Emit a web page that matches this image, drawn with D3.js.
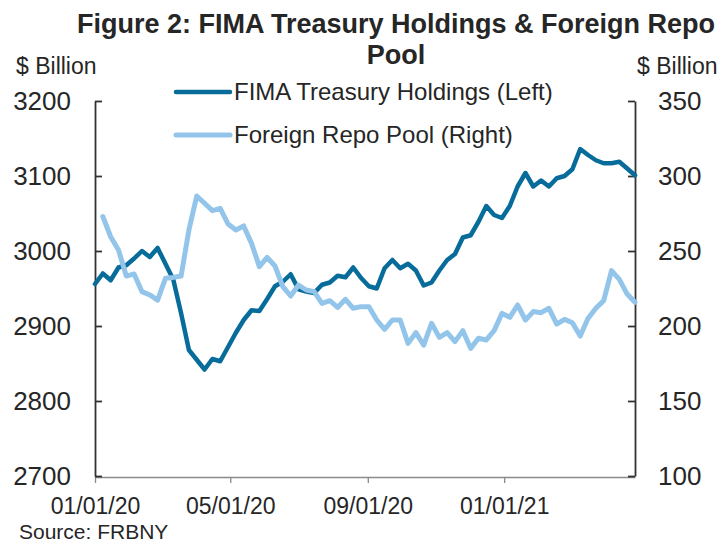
<!DOCTYPE html>
<html><head><meta charset="utf-8">
<script src="https://cdn.jsdelivr.net/npm/d3@7"></script>
<style>
body{margin:0;background:#fff}
text{font-family:"Liberation Sans",Arial,Helvetica,sans-serif;fill:#262626}
</style>
</head><body><svg id="c" width="722" height="542"></svg>
<script>
// Weekly observation dates (Wednesdays)
const dates = [
"2020-01-01","2020-01-08","2020-01-15","2020-01-22","2020-01-29",
"2020-02-05","2020-02-12","2020-02-19","2020-02-26",
"2020-03-04","2020-03-11","2020-03-18","2020-03-25",
"2020-04-01","2020-04-08","2020-04-15","2020-04-22","2020-04-29",
"2020-05-06","2020-05-13","2020-05-20","2020-05-27",
"2020-06-03","2020-06-10","2020-06-17","2020-06-24",
"2020-07-01","2020-07-08","2020-07-15","2020-07-22","2020-07-29",
"2020-08-05","2020-08-12","2020-08-19","2020-08-26",
"2020-09-02","2020-09-09","2020-09-16","2020-09-23","2020-09-30",
"2020-10-07","2020-10-14","2020-10-21","2020-10-28",
"2020-11-04","2020-11-11","2020-11-18","2020-11-25",
"2020-12-02","2020-12-09","2020-12-16","2020-12-23","2020-12-30",
"2021-01-06","2021-01-13","2021-01-20","2021-01-27",
"2021-02-03","2021-02-10","2021-02-17","2021-02-24",
"2021-03-03","2021-03-10","2021-03-17","2021-03-24","2021-03-31",
"2021-04-07","2021-04-14","2021-04-21","2021-04-28"];

// FIMA Treasury Holdings, $ billion (left axis)
const fimaHoldings = [
2956,2970,2961,2978,2981,2990,3000,2992,3004,2983,
2962,2917,2868,2855,2842,2856,2853,2872,2891,2908,
2921,2920,2936,2953,2959,2969,2949,2946,2944,2955,
2958,2967,2965,2978,2964,2953,2950,2977,2988,2977,
2983,2974,2954,2958,2974,2988,2996,3018,3021,3039,
3060,3048,3044,3060,3086,3104,3086,3094,3086,3097,
3100,3109,3136,3128,3121,3117,3117,3119,3110,3101];

// Foreign Repo Pool, $ billion (right axis)
const foreignRepoPool = [
null,273,259.5,250.7,233.3,234.7,222.9,220.7,217.3,231.8,
232.4,233.3,264,286.7,281.8,276.9,278.4,268,264,266.7,
255.1,239.6,245.8,240,226.2,220,227.3,224,222.9,215.1,
216.9,212.4,217.8,211.8,212.9,212.9,204,197.8,204,204,
188.4,195.6,187.3,201.8,192.4,195.6,189.6,196.9,185.1,191.8,
190.7,196.9,208.4,205.8,214,204,209.6,208.9,211.8,201.3,
204.4,202.2,193.3,205.1,211.8,216.9,236.9,231.1,221.3,215.8];

const leftTicks = [2700,2800,2900,3000,3100,3200];
const rightTicks = [100,150,200,250,300,350];
const xTickDates = ["2020-01-01","2020-05-01","2020-09-01","2021-01-01"];
const xTickLabels = ["01/01/20","05/01/20","09/01/20","01/01/21"];
const seriesNames = ["FIMA Treasury Holdings (Left)","Foreign Repo Pool (Right)"];

const parse = d3.utcParse("%Y-%m-%d");
const X0 = 95, X1 = 635, Y0 = 101, Y1 = 476;
const svg = d3.select("#c");

const x = d3.scaleUtc().domain([parse("2020-01-01"), parse("2021-04-28")]).range([X0, X1]);
const yL = d3.scaleLinear().domain([2700, 3200]).range([Y1, Y0]);
const yR = d3.scaleLinear().domain([100, 350]).range([Y1, Y0]);

// bottom axis
const gx = svg.append("g").attr("transform", `translate(0,${Y1 + 1})`)
  .call(d3.axisBottom(x).tickValues(xTickDates.map(parse))
    .tickFormat((d, i) => xTickLabels[i]).tickSize(6).tickSizeOuter(0).tickPadding(15));
gx.select(".domain").attr("stroke", "#8a8a8a").attr("stroke-width", 1.3);
gx.selectAll(".tick line").attr("stroke", "#8a8a8a").attr("stroke-width", 1.3);
gx.selectAll("text").attr("font-size", 23).attr("fill", "#262626");

// left axis
const gl = svg.append("g").attr("transform", `translate(${X0},0)`)
  .call(d3.axisLeft(yL).tickValues(leftTicks).tickFormat(d3.format("d"))
    .tickSize(-7).tickSizeOuter(0).tickPadding(24));
gl.select(".domain").attr("stroke", "#333").attr("stroke-width", 1.8);
gl.selectAll(".tick line").attr("stroke", "#333").attr("stroke-width", 1.8);
gl.selectAll("text").attr("font-size", 26).attr("fill", "#262626");

// right axis
const gr = svg.append("g").attr("transform", `translate(${X1},0)`)
  .call(d3.axisRight(yR).tickValues(rightTicks).tickFormat(d3.format("d"))
    .tickSize(-7).tickSizeOuter(0).tickPadding(23));
gr.select(".domain").attr("stroke", "#333").attr("stroke-width", 1.8);
gr.selectAll(".tick line").attr("stroke", "#333").attr("stroke-width", 1.8);
gr.selectAll("text").attr("font-size", 26).attr("fill", "#262626");

// lines
const pts = dates.map(parse);
const lineL = d3.line().defined(d => d != null).x((d, i) => x(pts[i])).y(d => yL(d));
const lineR = d3.line().defined(d => d != null).x((d, i) => x(pts[i])).y(d => yR(d));
const colors = ["#086c9b", "#93c5ea"];

svg.append("path").datum(fimaHoldings).attr("d", lineL)
  .attr("fill", "none").attr("stroke", colors[0]).attr("stroke-width", 4.5)
  .attr("stroke-linejoin", "round").attr("stroke-linecap", "round");
svg.append("path").datum(foreignRepoPool).attr("d", lineR)
  .attr("fill", "none").attr("stroke", colors[1]).attr("stroke-width", 5)
  .attr("stroke-linejoin", "round").attr("stroke-linecap", "round");

// title
svg.append("text").attr("x", 396).attr("y", 33).attr("text-anchor", "middle")
  .attr("font-size", 27).attr("font-weight", "bold").text("Figure 2: FIMA Treasury Holdings & Foreign Repo");
svg.append("text").attr("x", 396).attr("y", 63.5).attr("text-anchor", "middle")
  .attr("font-size", 27).attr("font-weight", "bold").text("Pool");

// axis unit labels
svg.append("text").attr("x", 16).attr("y", 74).attr("font-size", 23).text("$ Billion");
svg.append("text").attr("x", 637).attr("y", 74).attr("font-size", 23).text("$ Billion");

// legend
const legY = [92, 135];
seriesNames.forEach((name, i) => {
  svg.append("line").attr("x1", 176).attr("x2", 230).attr("y1", legY[i]).attr("y2", legY[i])
    .attr("stroke", colors[i]).attr("stroke-width", i === 0 ? 4.5 : 5).attr("stroke-linecap", "round");
  svg.append("text").attr("x", 234).attr("y", legY[i] + 8).attr("font-size", 24).text(name);
});

// source
svg.append("text").attr("x", 19).attr("y", 539).attr("font-size", 21).text("Source: FRBNY");
</script>
</body></html>
